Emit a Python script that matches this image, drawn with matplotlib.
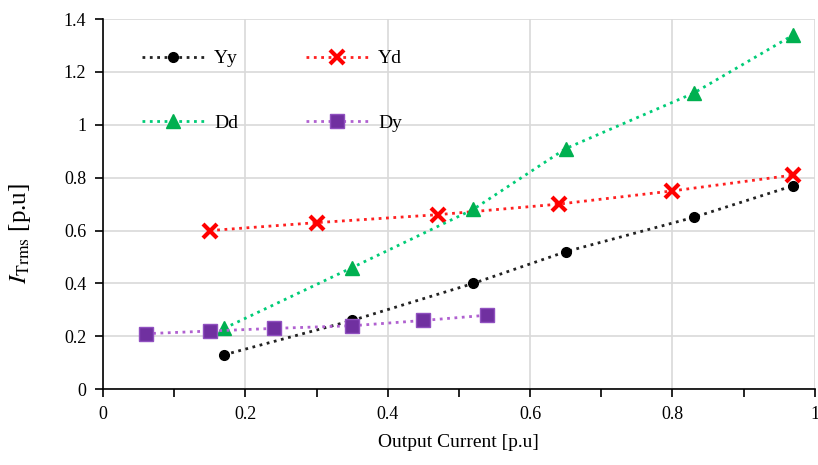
import matplotlib
matplotlib.use("Agg")
import matplotlib.pyplot as plt
from matplotlib.ticker import MultipleLocator

plt.rcParams['font.family'] = ['Liberation Serif', 'DejaVu Serif']
plt.rcParams['mathtext.fontset'] = 'stix'

# data
yy_x = [0.17, 0.35, 0.52, 0.65, 0.83, 0.97]
yy_y = [0.13, 0.26, 0.40, 0.52, 0.65, 0.77]

yd_x = [0.15, 0.30, 0.47, 0.64, 0.80, 0.97]
yd_y = [0.60, 0.63, 0.66, 0.70, 0.75, 0.81]

dd_x = [0.17, 0.35, 0.52, 0.65, 0.83, 0.97]
dd_y = [0.23, 0.46, 0.68, 0.91, 1.12, 1.34]

dy_x = [0.06, 0.15, 0.24, 0.35, 0.45, 0.54]
dy_y = [0.21, 0.22, 0.23, 0.24, 0.26, 0.28]

fig = plt.figure(figsize=(8.18, 4.65), dpi=100)
ax = fig.add_axes([0.126, 0.163, 0.87, 0.796])

l_yy, = ax.plot(yy_x, yy_y, linestyle=':', lw=2, color='#222222', marker='o', ms=7,
                mfc='black', mec='black', label='Yy')
l_yd, = ax.plot(yd_x, yd_y, linestyle=':', lw=2, color='#FF2020', marker='x', ms=10,
                mew=3, mec='#FF0000', label='Yd')
l_dd, = ax.plot(dd_x, dd_y, linestyle=':', lw=2, color='#00CC77', marker='^', ms=10,
                mfc='#00B050', mec='#00B050', label='Dd')
l_dy, = ax.plot(dy_x, dy_y, linestyle=':', lw=2, color='#B060D0', marker='s', ms=10,
                mfc='#7030A0', mec='#9050C0', label='Dy')

ax.set_xlim(0, 1)
ax.set_ylim(0, 1.4)
ax.xaxis.set_major_locator(MultipleLocator(0.2))
ax.xaxis.set_minor_locator(MultipleLocator(0.1))
ax.yaxis.set_major_locator(MultipleLocator(0.2))
ax.xaxis.set_major_formatter(plt.FuncFormatter(lambda v, p: '%g' % round(v, 2)))
ax.yaxis.set_major_formatter(plt.FuncFormatter(lambda v, p: '%g' % round(v, 2)))

ax.grid(True, which='major', color='#d9d9d9', lw=1.2)
ax.set_axisbelow(True)
ax.spines['top'].set_visible(False)
ax.spines['right'].set_visible(False)
ax.spines['left'].set_linewidth(1.2)
ax.spines['bottom'].set_linewidth(1.2)
ax.tick_params(which='both', direction='out', labelsize=13, width=1.2)
ax.tick_params(which='major', length=6, pad=6)
ax.tick_params(which='minor', length=6)

ax.set_xlabel('Output Current [p.u]', fontsize=14, labelpad=8)
ax.set_ylabel(r'$I_{\mathrm{Trms}}$ [p.u]', fontsize=18)
ax.yaxis.set_label_coords(-0.098, 0.42)

# row-wise order: Yy, Yd / Dd, Dy
ax.legend([l_yy, l_dd, l_yd, l_dy], ['Yy', 'Dd', 'Yd', 'Dy'],
          loc='upper left', ncol=2, frameon=False, fontsize=14,
          handlelength=3.2, handletextpad=0.5, labelspacing=2.4,
          columnspacing=3.5, borderaxespad=0.8, bbox_to_anchor=(0.022, 0.98))

fig.savefig('out.png', dpi=100)
